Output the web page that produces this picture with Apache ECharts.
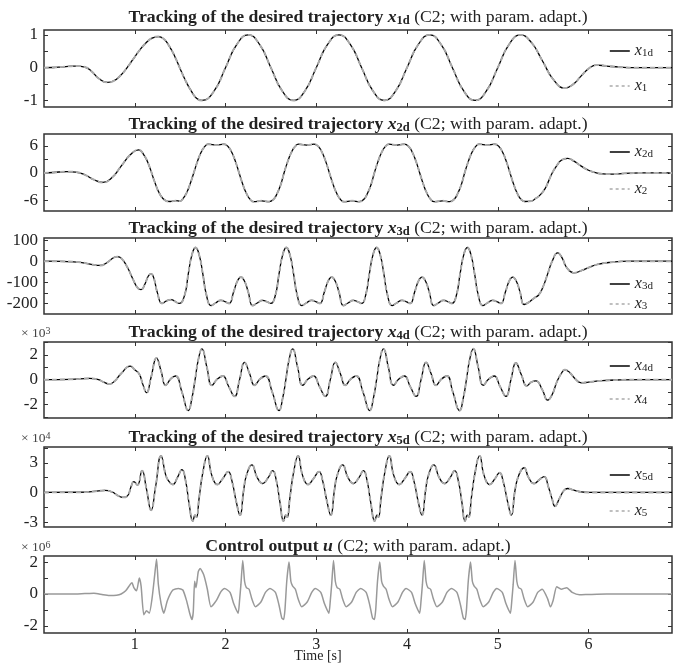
<!DOCTYPE html>
<html><head><meta charset="utf-8">
<script src="https://cdn.jsdelivr.net/npm/echarts@6/dist/echarts.min.js"></script>
<style>html,body{margin:0;padding:0;background:#fff}#c{width:689px;height:664px}</style>
</head><body><div id="c"></div><script>
// ---------------- DATA ----------------
const T_MAX = 6.92;
const xTicks = [1, 2, 3, 4, 5, 6];

const t1 = [0,0.1,0.2,0.3,0.36,0.45,0.52,0.6,0.7,0.77,0.84,0.91,0.98,1.05,1.12,1.19,1.26,1.32,1.38,1.44,1.5,1.56,1.62,1.68,1.74,1.875,2.0,2.125,2.25,2.375,2.5,2.625,2.75,2.875,3.0,3.125,3.25,3.375,3.5,3.625,3.75,3.875,4.0,4.125,4.25,4.375,4.5,4.625,4.75,4.875,5.0,5.125,5.25,5.37,5.49,5.62,5.74,5.83,5.92,6.0,6.09,6.2,6.35,6.5,6.92];
const x1d = [0,0.005,0.025,0.045,0.05,0.02,-0.1,-0.32,-0.45,-0.40,-0.245,-0.02,0.25,0.52,0.745,0.90,0.95,0.876,0.66,0.35,-0.03,-0.40,-0.70,-0.93,-1.0,-0.71,0,0.71,1.0,0.71,0,-0.71,-1.0,-0.71,0,0.71,1.0,0.71,0,-0.71,-1.0,-0.71,0,0.71,1.0,0.71,0,-0.71,-1.0,-0.71,0,0.71,1.0,0.77,0.22,-0.39,-0.62,-0.51,-0.25,-0.03,0.08,0.05,0.015,0,0];

const t2 = [0,0.1,0.25,0.35,0.45,0.55,0.65,0.75,0.85,0.95,1.04,1.10,1.16,1.22,1.28,1.34,1.39,1.45,1.50,1.53,1.57,1.61,
 1.65,1.69,1.73,1.77,1.81,1.90,1.98,2.03,2.07,2.11,2.15,2.19,2.23,2.27,2.31,2.40,2.48,2.53,2.57,2.61,
 2.645,2.685,2.725,2.765,2.805,2.895,2.975,3.025,3.065,3.105,3.145,3.185,3.225,3.265,3.305,3.395,3.475,3.525,3.565,3.605,
 3.64,3.68,3.72,3.76,3.80,3.89,3.97,4.02,4.06,4.10,4.14,4.18,4.22,4.26,4.30,4.39,4.47,4.52,4.56,4.60,
 4.635,4.675,4.715,4.755,4.795,4.885,4.965,5.015,5.055,5.095,5.135,5.175,5.215,5.255,5.30,5.37,5.42,5.46,5.52,5.56,5.60,5.65,5.70,5.77,5.84,5.92,6.0,6.08,6.16,6.25,6.4,6.6,6.92];
const x2d = [0,0.1,0.3,0.2,-0.4,-1.5,-2.1,-1.0,1.5,4.0,5.1,4.0,1.5,-2.0,-4.8,-6.1,-6.3,-6.1,-6.2,-5.7,-4.45,-2.44,
 0,2.5,4.5,5.8,6.35,6.15,6.35,5.8,4.5,2.5,0,-2.5,-4.5,-5.8,-6.35,-6.15,-6.35,-5.8,-4.5,-2.5,
 0,2.5,4.5,5.8,6.35,6.15,6.35,5.8,4.5,2.5,0,-2.5,-4.5,-5.8,-6.35,-6.15,-6.35,-5.8,-4.5,-2.5,
 0,2.5,4.5,5.8,6.35,6.15,6.35,5.8,4.5,2.5,0,-2.5,-4.5,-5.8,-6.35,-6.15,-6.35,-5.8,-4.5,-2.5,
 0,2.5,4.5,5.8,6.35,6.15,6.35,5.8,4.5,2.5,0,-2.5,-4.5,-5.8,-6.3,-6.2,-5.6,-5.0,-3.5,-1.8,0,1.6,2.8,3.2,2.6,1.5,0.6,0.05,-0.2,-0.25,-0.1,0,0];

const t3 = [0,0.2,0.4,0.52,0.62,0.70,0.76,0.81,0.86,0.92,0.98,1.03,1.07,1.11,1.15,1.18,1.21,1.25,1.30,1.35,1.40,1.45,1.49,1.55,1.59,1.63,
 1.67,1.71,1.75,1.79,1.84,1.89,1.95,2.00,2.04,2.09,2.13,2.17,2.21,2.25,2.30,2.35,2.41,2.46,2.50,2.55,2.59,2.63,
 2.67,2.71,2.75,2.79,2.84,2.89,2.95,3.00,3.04,3.09,3.13,3.17,3.21,3.25,3.30,3.35,3.41,3.46,3.50,3.545,3.585,3.625,
 3.665,3.705,3.745,3.785,3.835,3.885,3.945,3.995,4.035,4.085,4.125,4.165,4.205,4.245,4.295,4.345,4.405,4.455,4.495,4.545,4.585,4.625,
 4.665,4.705,4.745,4.785,4.835,4.885,4.945,4.995,5.035,5.085,5.125,5.165,5.205,5.245,5.29,5.34,5.40,5.45,5.50,5.55,5.60,5.66,5.71,5.76,5.84,5.92,6.0,6.1,6.25,6.45,6.92];
const x3d = [0,-1,-5,-15,-20,-5,15,22,10,-30,-85,-125,-135,-110,-70,-60,-80,-150,-200,-188,-182,-192,-200,-160,-60,30,
 65,30,-60,-160,-210,-198,-185,-193,-200,-145,-95,-75,-95,-145,-210,-198,-185,-193,-200,-160,-60,30,
 65,30,-60,-160,-210,-198,-185,-193,-200,-145,-95,-75,-95,-145,-210,-198,-185,-193,-200,-160,-60,30,
 65,30,-60,-160,-210,-198,-185,-193,-200,-145,-95,-75,-95,-145,-210,-198,-185,-193,-200,-160,-60,30,
 65,30,-60,-160,-210,-198,-185,-193,-200,-145,-95,-75,-95,-145,-205,-195,-175,-160,-120,-60,0,40,15,-30,-55,-45,-30,-15,-5,0,0];

const t4 = [0,0.3,0.5,0.6,0.66,0.72,0.78,0.85,0.95,1.00,1.05,1.09,1.13,1.18,1.24,1.29,1.34,1.40,1.45,1.52,
 1.59,1.63,1.665,1.70,1.74,1.795,1.85,1.91,1.97,2.035,2.10,2.155,2.21,2.265,2.32,2.38,2.44,2.515,
 2.59,2.63,2.665,2.70,2.74,2.795,2.85,2.91,2.97,3.035,3.10,3.155,3.21,3.265,3.32,3.38,3.44,3.515,
 3.59,3.63,3.665,3.70,3.74,3.795,3.85,3.91,3.97,4.035,4.10,4.155,4.21,4.265,4.32,4.38,4.44,4.505,
 4.58,4.62,4.655,4.69,4.73,4.785,4.84,4.90,4.96,5.025,5.09,5.145,5.20,5.26,5.32,5.37,5.42,5.49,5.55,5.60,5.65,5.70,5.74,5.79,5.85,5.92,6.0,6.15,6.35,6.6,6.92];
const x4d = [0,0.03,0.1,0,-0.2,-0.35,-0.1,0.5,1.1,0.8,0.45,-0.4,-1.05,0.2,1.75,0.7,-0.45,0.1,0.3,-1.0,
 -2.5,-1.5,0,1.6,2.5,1.0,-0.45,0.05,0.3,-0.55,-1.35,0,1.4,0.5,-0.45,0.05,0.3,-1.0,
 -2.5,-1.5,0,1.6,2.5,1.0,-0.45,0.05,0.3,-0.55,-1.35,0,1.4,0.5,-0.45,0.05,0.3,-1.0,
 -2.5,-1.5,0,1.6,2.5,1.0,-0.45,0.05,0.3,-0.55,-1.35,0,1.4,0.5,-0.45,0.05,0.3,-1.0,
 -2.5,-1.5,0,1.6,2.5,1.0,-0.45,0.05,0.3,-0.55,-1.35,0,1.35,0.4,-0.5,-0.2,-0.1,-0.8,-1.65,-1.2,-0.2,0.5,0.8,0.6,0.1,-0.25,-0.2,-0.08,-0.02,0,0];

const t5 = [0,0.4,0.55,0.67,0.75,0.82,0.87,0.92,0.96,0.99,1.03,1.08,1.13,1.18,1.23,1.29,1.34,1.37,1.42,1.47,1.52,1.56,1.60,
 1.64,1.665,1.68,1.71,1.75,1.80,1.85,1.91,1.97,2.03,2.07,2.12,2.16,2.20,2.23,2.29,2.35,2.41,2.47,2.52,2.56,2.60,
 2.64,2.665,2.68,2.71,2.75,2.80,2.85,2.91,2.97,3.03,3.07,3.12,3.16,3.20,3.23,3.29,3.35,3.41,3.47,3.52,3.56,3.60,
 3.645,3.67,3.685,3.715,3.755,3.805,3.855,3.915,3.975,4.035,4.075,4.125,4.165,4.205,4.235,4.295,4.355,4.415,4.475,4.525,4.565,4.605,
 4.64,4.665,4.68,4.71,4.75,4.80,4.85,4.91,4.97,5.02,5.06,5.11,5.15,5.19,5.23,5.29,5.34,5.40,5.46,5.51,5.56,5.60,5.63,5.68,5.73,5.77,5.83,5.92,6.0,6.92];
const x5d = [0,0.02,0.1,0.2,0.05,-0.35,-0.5,-0.35,0.6,1.1,0.75,2.2,0.3,-1.8,0.6,3.7,1.8,1.2,0.8,1.5,2.3,1.2,-1.2,
 -2.9,-2.3,-2.5,-0.5,2.0,3.7,1.7,0.8,1.4,2.1,1.2,-1.0,-2.3,0.2,1.7,2.8,1.5,0.9,1.5,2.2,1.2,-1.0,
 -2.9,-2.3,-2.5,-0.5,2.0,3.7,1.7,0.8,1.4,2.1,1.2,-1.0,-2.3,0.2,1.7,2.8,1.5,0.9,1.5,2.2,1.2,-1.0,
 -2.9,-2.3,-2.5,-0.5,2.0,3.7,1.7,0.8,1.4,2.1,1.2,-1.0,-2.3,0.2,1.7,2.8,1.5,0.9,1.5,2.2,1.2,-1.0,
 -2.9,-2.3,-2.5,-0.5,2.0,3.7,1.7,0.8,1.4,2.0,1.1,-1.0,-2.3,0.2,1.7,2.5,1.5,0.9,1.3,1.6,0.5,-0.7,-1.4,-0.6,0.2,0.4,0.25,0.05,0,0];

const tu = [0,0.3,0.45,0.55,0.65,0.72,0.8,0.85,0.9,0.95,0.97,0.99,1.02,1.05,1.07,1.10,1.13,1.16,1.19,1.22,1.24,1.26,1.29,1.32,1.36,1.42,1.48,1.53,1.57,1.61,1.63,1.645,1.66,1.675,1.70,1.72,1.76,1.80,1.84,1.90,1.95,1.99,
 2.05,2.09,2.12,2.14,2.155,2.17,2.19,2.21,2.23,2.26,2.29,2.33,2.39,2.44,2.49,
 2.55,2.59,2.62,2.64,2.655,2.675,2.70,2.72,2.74,2.77,2.80,2.84,2.90,2.95,2.99,
 3.05,3.09,3.12,3.14,3.155,3.17,3.19,3.21,3.23,3.26,3.29,3.33,3.39,3.44,3.49,
 3.55,3.59,3.62,3.64,3.655,3.675,3.70,3.72,3.74,3.77,3.80,3.84,3.90,3.95,3.99,
 4.05,4.09,4.12,4.14,4.155,4.17,4.19,4.21,4.23,4.26,4.29,4.33,4.39,4.44,4.49,
 4.55,4.59,4.62,4.64,4.655,4.675,4.70,4.72,4.74,4.77,4.80,4.84,4.90,4.95,4.99,
 5.05,5.09,5.12,5.14,5.155,5.17,5.19,5.21,5.23,5.26,5.29,5.33,5.39,5.44,5.49,
 5.55,5.58,5.61,5.65,5.70,5.76,5.82,5.9,6.0,6.2,6.92];
const uVals = [0,0,0.03,0.05,-0.05,-0.1,-0.08,0,0.2,0.6,0.7,0.4,0.2,1.0,0.5,-1.3,-1.05,-1.2,-0.3,1.2,2.2,0.6,-0.6,-1.2,-0.4,0.25,0.35,0.25,-0.4,-1.3,-1.6,-1.1,0.8,0.4,1.4,1.6,1.2,0.3,-0.8,-0.4,0.15,0.35,
 0.1,-0.6,-1.0,-1.2,-0.4,0.6,2.1,0.8,0.4,0.3,-0.3,-0.8,-0.5,0.1,0.35,
 0.1,-0.7,-1.5,-1.6,-1.0,0.8,2.0,0.8,0.5,0.3,-0.3,-0.8,-0.5,0.1,0.35,
 0.1,-0.6,-1.0,-1.2,-0.4,0.6,2.1,0.8,0.4,0.3,-0.3,-0.8,-0.5,0.1,0.35,
 0.1,-0.7,-1.5,-1.6,-1.0,0.8,2.0,0.8,0.5,0.3,-0.3,-0.8,-0.5,0.1,0.35,
 0.1,-0.6,-1.0,-1.2,-0.4,0.6,2.1,0.8,0.4,0.3,-0.3,-0.8,-0.5,0.1,0.35,
 0.1,-0.7,-1.5,-1.6,-1.0,0.8,2.0,0.8,0.5,0.3,-0.3,-0.8,-0.5,0.1,0.35,
 0.1,-0.6,-1.0,-1.2,-0.4,0.6,2.1,0.8,0.4,0.3,-0.3,-0.8,-0.5,0.1,0.3,
 -0.3,-0.8,-0.4,0.45,0.3,0.4,0.1,-0.05,-0.03,0,0];

// y-axis ranges, ticks and tick labels
const yMin = [-1.2, -8.4, -250, -3.1, -3.5, -2.44];
const yMax = [1.15, 8.6, 110, 3.05, 4.6, 2.38];
const yTicks = [[-1,-0.5,0,0.5,1],[-6,-3,0,3,6],[-200,-150,-100,-50,0,50,100],[-3,-2,-1,0,1,2,3],[-3,-1.5,0,1.5,3,4.5],[-2,-1,0,1,2]];
const yLabels = [[-1,0,1],[-6,0,6],[-200,-100,0,100],[-2,0,2],[-3,0,3],[-2,0,2]];
const scaleExp = [null, null, null, '3', '4', '6'];
const subs = ['1','2','3','4','5'];

// ---------------- CHART ----------------
const FONT = "'Liberation Serif','DejaVu Serif',serif";
const layout = [{top:30,h:77},{top:134,h:77},{top:238,h:76},{top:342,h:76},{top:447,h:80},{top:556,h:77}];
const titleGap = [13, 10, 10, 10, 10, 10];
// legend row centres (px from plot top): [desired, actual]
const legendRows = [[20,55],[17,54],[45,65],[23,56],[27,63]];
const L = 44, R = 17;

const grid = [], xAxis = [], yAxis = [], series = [], legend = [], graphic = [];
const tickStyle = {show:true, inside:true, length:4, lineStyle:{color:'#333', width:1}};
const noLine = {show:false, onZero:false};
layout.forEach((g, i) => {
  grid.push({left:L, right:R, top:g.top, height:g.h, show:true, borderColor:'#333', borderWidth:1.5, backgroundColor:'transparent'});
  const last = i === layout.length - 1;
  xAxis.push({gridIndex:i, type:'value', min:0, max:T_MAX, axisLine:noLine, splitLine:{show:false},
    axisTick:Object.assign({customValues:xTicks}, tickStyle),
    axisLabel:{show:last, customValues:xTicks, color:'#222', fontFamily:FONT, fontSize:16, margin:4}});
  yAxis.push({gridIndex:i, type:'value', min:yMin[i], max:yMax[i], axisLine:noLine, splitLine:{show:false},
    axisTick:Object.assign({customValues:yTicks[i]}, tickStyle),
    axisLabel:{customValues:yLabels[i], color:'#222', fontFamily:FONT, fontSize:17, margin:6, formatter: v => String(v)}});
});
layout.forEach((g, i) => {
  xAxis.push({gridIndex:i, type:'value', position:'top', min:0, max:T_MAX, axisLine:noLine, splitLine:{show:false},
    axisTick:Object.assign({customValues:xTicks}, tickStyle), axisLabel:{show:false}});
  yAxis.push({gridIndex:i, type:'value', position:'right', min:yMin[i], max:yMax[i], axisLine:noLine, splitLine:{show:false},
    axisTick:Object.assign({customValues:yTicks[i]}, tickStyle), axisLabel:{show:false}});
});

const pairs = (t, v) => t.map((x, k) => [x, v[k]]);
const desired = [[t1,x1d],[t2,x2d],[t3,x3d],[t4,x4d],[t5,x5d]];
const legText = {fontFamily:FONT, fontSize:15, color:'#222',
  rich:{i:{fontFamily:FONT, fontStyle:'italic', fontSize:16, lineHeight:16, verticalAlign:'middle', color:'#222'},
        s:{fontFamily:FONT, fontSize:11, lineHeight:11, verticalAlign:'bottom', color:'#222'}}};
desired.forEach(([t, v], i) => {
  const nd = 'x' + subs[i] + 'd', na = 'x' + subs[i];
  series.push({type:'line', name:nd, xAxisIndex:i, yAxisIndex:i, data:pairs(t, v), symbol:'none', smooth:0.5,
    color:'#000', lineStyle:{color:'#000', width:1.3}, z:2, animation:false});
  // the actual state overlaps the desired one at this resolution
  series.push({type:'line', name:na, xAxisIndex:i, yAxisIndex:i, data:pairs(t, v), symbol:'none', smooth:0.5,
    color:'#aaa', lineStyle:{color:'#aaa', width:1.9, type:[5,3]}, z:3, animation:false});
  [[nd, {color:'#111', width:1.6, type:'solid'}], [na, {color:'#aaa', width:1.3, type:[3,3]}]].forEach(([nm, ls], r) => {
    legend.push({data:[{name:nm, lineStyle:ls}], left:604, top:layout[i].top + legendRows[i][r] - 12,
      itemWidth:20, itemHeight:16, itemStyle:{opacity:0}, lineStyle:ls, textStyle:legText,
      formatter: n => '{i|x}{s|' + n.slice(1) + '}', selectedMode:false});
  });
});
series.push({type:'line', name:'u', xAxisIndex:5, yAxisIndex:5, data:pairs(tu, uVals), symbol:'none', smooth:0.2,
  color:'#999', lineStyle:{color:'#999', width:1.5}, animation:false});

// titles
const TS = 17.7;
const titleRich = {
  b:{fontFamily:FONT, fontWeight:'bold', fontSize:TS, lineHeight:20, verticalAlign:'middle', fill:'#222'},
  bi:{fontFamily:FONT, fontWeight:'bold', fontStyle:'italic', fontSize:TS, lineHeight:20, verticalAlign:'middle', fill:'#222'},
  bs:{fontFamily:FONT, fontWeight:'bold', fontSize:12.5, lineHeight:12, verticalAlign:'bottom', fill:'#222'},
  n:{fontFamily:FONT, fontSize:TS, lineHeight:20, verticalAlign:'middle', fill:'#222'}
};
layout.forEach((g, i) => {
  const txt = i < 5
    ? '{b|Tracking of the desired trajectory }{bi|x}{bs|' + subs[i] + 'd}{n| (C2; with param. adapt.)}'
    : '{b|Control output }{bi|u}{n| (C2; with param. adapt.)}';
  graphic.push({type:'text', style:{x:L + (689 - L - R) / 2, y:g.top - titleGap[i], text:txt, rich:titleRich,
    align:'center', verticalAlign:'middle', textAlign:'center', textVerticalAlign:'middle'}});
  if (scaleExp[i]) {
    graphic.push({type:'text', style:{x:21, y:g.top - 9, text:'× 10{p|' + scaleExp[i] + '}',
      font:'13.5px ' + FONT, fill:'#444', verticalAlign:'middle', textVerticalAlign:'middle',
      rich:{p:{fontFamily:FONT, fontSize:10, lineHeight:9, verticalAlign:'top', fill:'#444'}}}});
  }
});
graphic.push({type:'text', style:{x:318, y:656, text:'Time [s]', font:'14px ' + FONT, fill:'#222',
  align:'center', verticalAlign:'middle', textAlign:'center', textVerticalAlign:'middle'}});

const chart = echarts.init(document.getElementById('c'), null, {renderer:'canvas'});
chart.setOption({animation:false, backgroundColor:'#fff', grid, xAxis, yAxis, series, legend, graphic});
</script></body></html>
